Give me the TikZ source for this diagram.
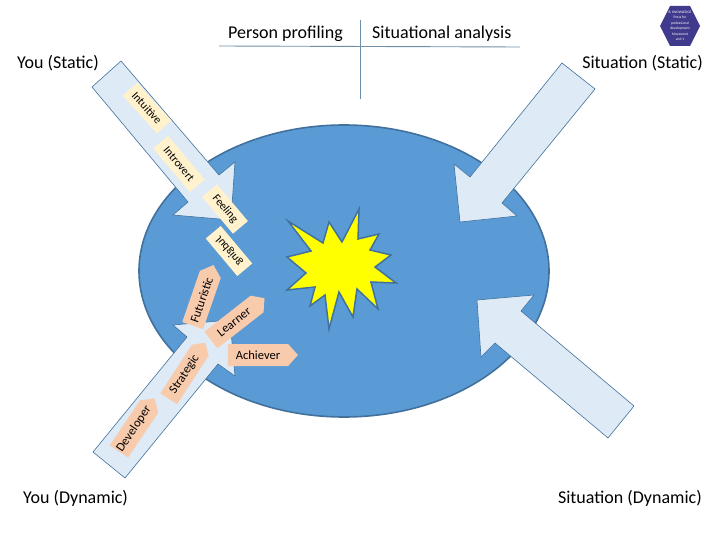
\documentclass[tikz,border=0pt]{standalone}
\usepackage{fontspec}
\setmainfont{Carlito}
\usepackage{xcolor}
\usepackage{tikz}
\usetikzlibrary{shapes.geometric,shapes.symbols}
\definecolor{pl}{HTML}{5B9BD5}
\definecolor{ol}{HTML}{41719C}
\definecolor{ar}{HTML}{DEEAF6}
\definecolor{bg}{HTML}{FFF2CC}
\definecolor{pc}{HTML}{F8CBAD}
\definecolor{hx}{HTML}{3F3A8C}
\definecolor{rl}{HTML}{6F8FA8}
\definecolor{sr}{HTML}{FFFF00}
\tikzset{
  bigarrow/.style={draw=ol, fill=ar, line width=0.6pt, line join=miter},
  headlabel/.style={font=\fontsize{18}{20}\selectfont, inner sep=0pt},
  rulerline/.style={draw=rl, line width=0.9pt},
  traitbox/.style={fill=bg, minimum height=19.5, inner sep=0pt, font=\fontsize{11.5}{12}\selectfont},
  talentbox/.style={shape=signal, signal to=east, signal from=nowhere, signal pointer angle=96,
    fill=pc, inner sep=0pt, outer sep=0pt, font=\fontsize{12.5}{13}\selectfont},
}
\begin{document}
\begin{tikzpicture}[x=1pt,y=-1pt]
  \useasboundingbox (0,0) rectangle (720,540);
  \node[ellipse, draw=ol, fill=pl, line width=1.6pt, inner sep=0pt, minimum width=410, minimum height=292] (pool) at (344,271) {};
  \draw[bigarrow] (121,61) -- (219,175) -- (235,162) -- (231,220) -- (173,215) -- (188,202) -- (92,87) -- cycle;
  \draw[bigarrow] (562,63) -- (470,177) -- (454,164) -- (460,222) -- (517,216) -- (502,203) -- (595,89) -- cycle;
  \draw[bigarrow] (608,438) -- (634,406) -- (521,311) -- (534,295) -- (477,300) -- (481,357) -- (495,343) -- cycle;
  \draw[bigarrow] (93,452) -- (187,337) -- (173,325) -- (230,320) -- (235,376) -- (218,364) -- (125,478) -- cycle;
  \draw[draw=ol, fill=sr, line width=1.5pt, line join=miter]
    (359,209) -- (358,239) -- (379,234) -- (370,250) -- (391,255) -- (375,267) -- (396,283)
    -- (371,282) -- (378,309) -- (357,289) -- (353,317) -- (339,292) -- (329,329) -- (325,295)
    -- (310,306) -- (315,287) -- (287,290) -- (306,273) -- (287,257) -- (311,251) -- (288,221)
    -- (323,243) -- (329,222) -- (342,242) -- cycle;
  \node[traitbox, minimum width=51, rotate=-48] (intuitive) at (147,108) {Intuitive};
  \node[traitbox, minimum width=57, rotate=-50] (introvert) at (179,164) {Introvert};
  \node[traitbox, minimum width=48, rotate=-50] (feeling) at (225,209) {Feeling};
  \node[traitbox, minimum width=49, rotate=-50] (judging) at (229,251) {\scalebox{1}[-1]{Judging}};
  \node[talentbox, minimum width=64, minimum height=22, rotate=71] (futuristic) at (201.5,300) {Futuristic};
  \node[talentbox, minimum width=68, minimum height=21, rotate=38] (learner) at (234,322) {Learner};
  \node[talentbox, minimum width=70, minimum height=22] (achiever) at (258,355) {Achiever};
  \node[talentbox, minimum width=67, minimum height=20, rotate=57] (strategic) at (184.5,374.5) {Strategic};
  \node[talentbox, minimum width=64, minimum height=22, rotate=56] (developer) at (134,429) {Developer};
  \node[headlabel, anchor=west] (profiling) at (228,33.5) {Person profiling};
  \node[headlabel, anchor=west] (analysis) at (372,33.5) {Situational analysis};
  \node[headlabel, anchor=west] (youstatic) at (17,63.5) {You (Static)};
  \node[headlabel, anchor=east] (sitstatic) at (703,63.5) {Situation (Static)};
  \node[headlabel, anchor=west] (youdyn) at (23,498.5) {You (Dynamic)};
  \node[headlabel, anchor=east] (sitdyn) at (702,498.5) {Situation (Dynamic)};
  \coordinate (ruleleft) at (219,46);
  \coordinate (ruleright) at (520,47);
  \coordinate (ruletop) at (360,20);
  \coordinate (rulebottom) at (360,99);
  \draw[rulerline] (ruleleft) -- (ruleright);
  \draw[rulerline] (ruletop) -- (rulebottom);
  \fill[hx] (660,26) -- (670,6) -- (690,6) -- (700,26) -- (690,46) -- (670,46) -- cycle;
  \node[text=white, align=center, inner sep=0pt, font=\fontsize{3.6}{5.5}\selectfont] (badge) at (680,26)
    {B. KNOWLEDGE\\Press for\\professional\\development\\Movement\\and 1};
\end{tikzpicture}
\end{document}
